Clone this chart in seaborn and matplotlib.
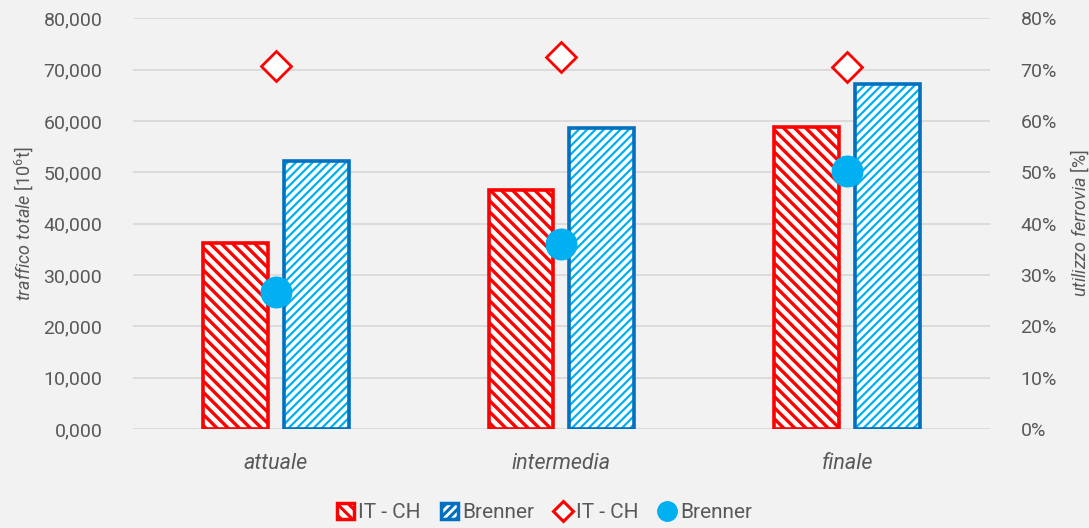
import matplotlib
matplotlib.use("Agg")
import matplotlib.pyplot as plt
import seaborn as sns
import pandas as pd
import numpy as np
from matplotlib.patches import Rectangle, Patch
from matplotlib.lines import Line2D

scenarios = ["attuale", "intermedia", "finale"]
series = ["IT - CH", "Brenner"]
traffic_itch = [36200, 46500, 58800]
traffic_brenner = [52200, 58600, 67200]
rail_itch = [70.7, 72.4, 70.5]
rail_brenner = [26.7, 36.0, 50.2]
left_ticks = [0, 10000, 20000, 30000, 40000, 50000, 60000, 70000, 80000]
left_labels = ["0,000", "10,000", "20,000", "30,000", "40,000", "50,000", "60,000", "70,000", "80,000"]
right_ticks = [0, 10, 20, 30, 40, 50, 60, 70, 80]
right_labels = ["0%", "10%", "20%", "30%", "40%", "50%", "60%", "70%", "80%"]

sns.set_theme(style="white")
plt.rcParams["font.family"] = ["Roboto", "DejaVu Sans"]
plt.rcParams["mathtext.fontset"] = "custom"
plt.rcParams["mathtext.rm"] = "Roboto"
plt.rcParams["mathtext.it"] = "Roboto:italic"
plt.rcParams["hatch.linewidth"] = 2.2

GRAY = "#595959"
RED = "#ff0000"
LBLUE = "#00b0f0"
DBLUE = "#0070c0"
BG = "#f2f2f2"

df = pd.DataFrame({
    "scenario": scenarios * 2,
    "serie": [series[0]] * 3 + [series[1]] * 3,
    "traffico": traffic_itch + traffic_brenner,
})

fig = plt.figure(figsize=(10.89, 5.28), dpi=100, facecolor=BG)
ax = fig.add_axes([0.122, 0.1875, 0.787, 0.778])
ax.set_facecolor(BG)

sns.barplot(data=df, x="scenario", y="traffico", hue="serie", order=scenarios,
            hue_order=series, palette=[RED, LBLUE], width=0.566, gap=0.198,
            ax=ax, legend=False, zorder=3)

bars = [p for p in ax.patches]
n = len(scenarios)
for i, p in enumerate(bars):
    is_red = i < n
    p.set_facecolor("white")
    if is_red:
        p.set_hatch("\\\\\\")
        p.set_edgecolor(RED)
        p.set_linewidth(2.6)
        try:
            p.set_hatch_linewidth(2.4)
        except Exception:
            pass
    else:
        p.set_hatch("////")
        p.set_edgecolor(LBLUE)
        p.set_linewidth(0)
        try:
            p.set_hatch_linewidth(1.6)
        except Exception:
            pass
        ax.add_patch(Rectangle((p.get_x(), p.get_y()), p.get_width(), p.get_height(),
                               fill=False, edgecolor=DBLUE, linewidth=2.6, zorder=4))

ax.set_xlim(-0.5, 2.5)
ax.set_ylim(0, 80000)
ax.set_yticks(left_ticks)
ax.set_yticklabels(left_labels)
ax.yaxis.grid(True, color="#d9d9d9", linewidth=1.3, zorder=0)
ax.set_axisbelow(True)
for s in ax.spines.values():
    s.set_visible(False)
ax.tick_params(axis="both", length=0, labelsize=14, labelcolor=GRAY)
ax.tick_params(axis="y", pad=22)
ax.tick_params(axis="x", pad=17, labelsize=15.5)
for lab in ax.get_xticklabels():
    lab.set_fontstyle("italic")
ax.set_xlabel("")
ax.set_ylabel(r"$\it{traffico\ totale}$ [10$^6$t]", color=GRAY, fontsize=13, labelpad=6)

ax2 = ax.twinx()
ax2.set_ylim(0, 80)
ax2.set_yticks(right_ticks)
ax2.set_yticklabels(right_labels)
for s in ax2.spines.values():
    s.set_visible(False)
ax2.tick_params(axis="y", length=0, labelsize=14, labelcolor=GRAY, pad=22)
ax2.set_ylabel(r"$\it{utilizzo\ ferrovia}$ [%]", color=GRAY, fontsize=13, labelpad=8)

xpos = np.arange(n)
ax2.plot(xpos, rail_itch, ls="none", marker="D", markersize=15, markerfacecolor="white",
         markeredgecolor=RED, markeredgewidth=2, zorder=5)
ax2.plot(xpos, rail_brenner, ls="none", marker="o", markersize=22, markerfacecolor=LBLUE,
         markeredgecolor=LBLUE, zorder=5)

handles = [
    Patch(facecolor="white", edgecolor=RED, hatch="\\\\\\", linewidth=2.5),
    Patch(facecolor="white", edgecolor=DBLUE, hatch="////", linewidth=2.5),
    Line2D([], [], ls="none", marker="D", markersize=10, markerfacecolor="white",
           markeredgecolor=RED, markeredgewidth=2.2),
    Line2D([], [], ls="none", marker="o", markersize=14, markerfacecolor=LBLUE,
           markeredgecolor=LBLUE),
]
labels = ["IT - CH", "Brenner", "IT - CH", "Brenner"]
fig.legend(handles, labels, loc="lower center", ncol=4, frameon=False,
           bbox_to_anchor=(0.5, -0.025), fontsize=15, labelcolor=GRAY,
           handlelength=0.8, handleheight=0.8, handletextpad=0.2, columnspacing=1.0)

fig.savefig("out.png", dpi=100, facecolor=BG)
